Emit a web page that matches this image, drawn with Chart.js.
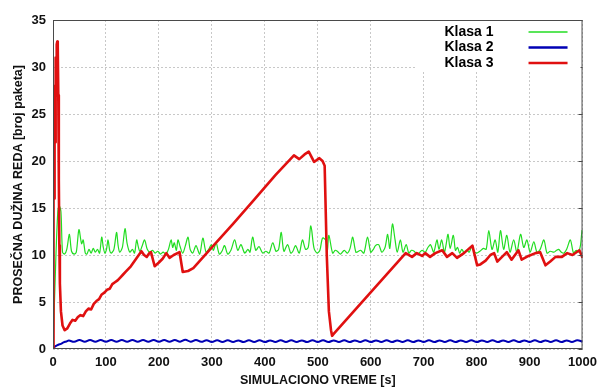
<!DOCTYPE html>
<html>
<head>
<meta charset="utf-8">
<script src="https://cdn.jsdelivr.net/npm/chart.js@4"></script>
<style>
  html, body { margin: 0; padding: 0; background: #fff; }
  #wrap { width: 603px; height: 391px; }
</style>
</head>
<body>
<div id="wrap"><canvas id="queueChart" width="603" height="391"></canvas></div>
<script>
const seriesNames = ["Klasa 1", "Klasa 2", "Klasa 3"];
const xTicks = [0, 100, 200, 300, 400, 500, 600, 700, 800, 900, 1000];
const yTicks = [0, 5, 10, 15, 20, 25, 30, 35];

// Klasa 1 (green)
const greenTime = [
    0, 5, 9, 12, 15, 18, 22, 26, 31, 35,
    40, 44, 49, 54, 57, 61, 64, 68, 72, 76,
    80, 84, 88, 92, 95, 98, 101, 104, 107, 110,
    115, 120, 123, 126, 131, 136, 140, 145, 150, 154,
    158, 161, 164, 168, 173, 178, 183, 188, 193, 198,
    203, 208, 213, 218, 223, 226, 229, 233, 236, 240,
    245, 250, 255, 259, 264, 270, 277, 283, 289, 294,
    299, 303, 308, 314, 319, 324, 330, 336, 343, 349,
    355, 362, 368, 372, 377, 383, 389, 396, 402, 408,
    415, 421, 426, 431, 436, 443, 449, 453, 458, 465,
    471, 477, 482, 487, 493, 499, 504, 509, 515, 518,
    521, 528, 533, 537, 543, 550, 556, 561, 566, 572,
    577, 581, 587, 594, 600, 605, 609, 615, 621, 627,
    632, 636, 641, 646, 650, 656, 661, 667, 672, 677,
    682, 687, 691, 697, 703, 708, 713, 719, 725, 729,
    734, 739, 742, 746, 750, 756, 760, 764, 768, 772,
    777, 782, 786, 791, 795, 800, 806, 813, 818, 823,
    829, 835, 840, 845, 851, 857, 863, 870, 876, 883,
    889, 895, 901, 908, 914, 920, 927, 933, 939, 946,
    951, 955, 960, 965, 970, 977, 983, 988, 992, 996,
    999, 1000
];
const greenValue = [
    0, 9, 14.5, 15.2, 14.6, 10.3, 10.1, 10.6, 12.2, 10.4,
    10.1, 10.3, 12.7, 11.2, 11.6, 10.2, 10.1, 10.6, 10.2, 10.7,
    10.3, 10.6, 10.2, 11.9, 10.8, 10.2, 10.6, 11.6, 10.5, 10.2,
    10.6, 12.4, 11.0, 10.3, 10.8, 12.8, 11.2, 10.3, 10.6, 10.2,
    11.6, 10.9, 10.4, 10.9, 11.6, 10.6, 10.3, 10.5, 10.2, 10.4,
    10.1, 10.3, 10.1, 10.6, 11.6, 10.8, 11.3, 10.5, 11.6, 10.9,
    10.2, 11.0, 11.9, 10.6, 10.2, 11.0, 10.1, 11.8, 10.3, 10.6,
    11.1, 10.5, 11.3, 10.1, 10.4, 11.0, 10.1, 10.5, 11.6, 10.5,
    11.1, 10.2, 10.6, 10.3, 11.9, 10.5, 10.9, 10.2, 10.4, 10.2,
    11.3, 10.4, 10.6, 12.4, 10.4, 11.1, 10.2, 10.4, 11.0, 10.2,
    11.6, 10.6, 10.8, 13.1, 10.7, 10.2, 10.5, 11.8, 11.6, 10.4,
    12.1, 10.2, 10.5, 10.4, 10.1, 10.5, 10.2, 10.7, 11.9, 10.3,
    10.4, 10.5, 10.2, 11.9, 10.3, 10.6, 11.0, 11.1, 10.3, 10.8,
    12.2, 10.7, 13.3, 11.6, 10.3, 11.6, 10.3, 11.1, 10.2, 10.5,
    10.4, 10.1, 10.2, 10.5, 10.3, 10.8, 11.1, 10.3, 11.6, 10.6,
    11.6, 10.3, 11.0, 12.2, 10.7, 12.1, 10.5, 10.8, 10.2, 10.6,
    10.2, 10.5, 10.3, 10.9, 10.4, 10.2, 10.4, 10.7, 10.6, 12.6,
    10.6, 11.6, 10.3, 12.6, 10.6, 12.1, 10.3, 11.6, 10.3, 12.2,
    10.8, 11.6, 10.3, 11.4, 10.3, 10.6, 11.6, 10.2, 10.4, 10.3,
    10.5, 10.6, 10.3, 10.2, 10.6, 11.6, 10.2, 10.5, 10.3, 11.0,
    12.6, 12.4
];

// Klasa 2 (blue)
const blueTime = [
    0, 5, 10, 15, 20, 25, 30, 40, 50, 60,
    70, 80, 90, 100, 110, 120, 130, 140, 150, 160,
    170, 180, 190, 200, 210, 220, 230, 240, 250, 260,
    270, 280, 290, 300, 310, 320, 330, 340, 350, 360,
    370, 380, 390, 400, 410, 420, 430, 440, 450, 460,
    470, 480, 490, 500, 510, 520, 530, 540, 550, 560,
    570, 580, 590, 600, 610, 620, 630, 640, 650, 660,
    670, 680, 690, 700, 710, 720, 730, 740, 750, 760,
    770, 780, 790, 800, 810, 820, 830, 840, 850, 860,
    870, 880, 890, 900, 910, 920, 930, 940, 950, 960,
    970, 980, 990, 1000
];
const blueValue = [
    0.1, 0.3, 0.45, 0.55, 0.7, 0.8, 0.9, 0.76, 0.96, 0.78,
    0.97, 0.77, 0.95, 0.76, 0.96, 0.78, 0.95, 0.77, 0.96, 0.76,
    0.95, 0.78, 0.97, 0.77, 0.95, 0.76, 0.96, 0.78, 0.98, 0.77,
    0.95, 0.76, 0.94, 0.75, 0.92, 0.74, 0.92, 0.75, 0.91, 0.74,
    0.92, 0.75, 0.93, 0.74, 0.91, 0.75, 0.92, 0.74, 0.92, 0.75,
    0.91, 0.74, 0.92, 0.75, 0.93, 0.74, 0.91, 0.75, 0.92, 0.74,
    0.91, 0.75, 0.92, 0.74, 0.91, 0.75, 0.92, 0.74, 0.91, 0.75,
    0.92, 0.74, 0.91, 0.75, 0.92, 0.74, 0.91, 0.75, 0.92, 0.74,
    0.91, 0.75, 0.92, 0.74, 0.91, 0.75, 0.92, 0.74, 0.91, 0.75,
    0.92, 0.74, 0.91, 0.75, 0.92, 0.74, 0.91, 0.75, 0.92, 0.74,
    0.91, 0.75, 0.92, 0.78
];

// Klasa 3 (red)
const redTime = [
    0, 1, 2, 3, 4, 5, 6, 7, 8, 9,
    10, 11, 12, 13, 15, 18, 22, 27, 32, 37,
    42, 47, 52, 57, 62, 67, 72, 77, 82, 87,
    92, 97, 102, 107, 112, 117, 122, 127, 132, 137,
    142, 147, 152, 157, 162, 167, 172, 177, 182, 185,
    192, 200, 207, 214, 220, 228, 239, 245, 255, 265,
    300, 340, 380, 420, 455, 465, 475, 483, 493, 503,
    509, 513, 517, 521, 525, 527, 530, 666, 678, 687,
    697, 703, 712, 722, 735, 744, 754, 763, 776, 792,
    801, 807, 817, 826, 833, 839, 848, 857, 866, 879,
    885, 898, 911, 920, 930, 939, 949, 961, 971, 981,
    994, 1000
];
const redValue = [
    0, 23, 16, 28, 22, 31, 27, 32.4, 32.7, 32.2,
    27, 18, 11, 7, 4, 2.5, 2.0, 2.2, 2.7, 3.1,
    3.0, 3.4, 3.6, 3.5, 4.0, 4.3, 4.2, 4.8, 5.1, 5.3,
    5.8, 6.0, 6.3, 6.4, 6.9, 7.1, 7.3, 7.6, 7.9, 8.2,
    8.5, 8.8, 9.2, 9.6, 10.0, 10.4, 10.0, 9.8, 10.2, 10.3,
    8.8, 9.2, 9.6, 10.2, 9.7, 10.0, 10.3, 8.2, 8.3, 8.6,
    10.8, 13.3, 15.9, 18.5, 20.6, 20.2, 20.7, 21.0, 19.9, 20.3,
    20.0, 19.5, 10, 4, 2, 1.4, 1.6, 10.2, 9.8, 10.2,
    9.9, 10.2, 9.8, 10.2, 10.5, 9.8, 10.2, 9.7, 10.2, 11.0,
    8.9, 9.0, 9.4, 10.0, 10.2, 9.3, 9.8, 10.3, 9.5, 10.5,
    9.5, 9.9, 10.2, 10.3, 8.9, 9.3, 9.8, 9.8, 10.2, 10.0,
    10.5, 9.7
];

const COLORS = ["#22dd22", "#0000b4", "#e01010"];
const WIDTHS = [1.2, 2, 2.6];

function toPoints(times, values) {
    return times.map((t, i) => ({ x: t, y: values[i] }));
}

// frame round the plot + small inner ticks on the right edge
const framePlugin = {
    id: "frame",
    afterDatasetsDraw(chart) {
        const { ctx, chartArea: a, scales } = chart;
        ctx.save();
        ctx.strokeStyle = "#4a4a4a";
        ctx.lineWidth = 1;
        ctx.strokeRect(a.left + 0.5, a.top + 0.5, a.right - a.left - 1, a.bottom - a.top - 1);
        ctx.beginPath();
        yTicks.forEach(v => {
            const y = Math.round(scales.y.getPixelForValue(v)) + 0.5;
            ctx.moveTo(a.right, y);
            ctx.lineTo(a.right - 4, y);
        });
        ctx.stroke();
        ctx.restore();
    }
};

// legend box: text first, then line sample, top right inside the plot
const legendPlugin = {
    id: "lineLegend",
    afterDatasetsDraw(chart) {
        const { ctx, chartArea: a } = chart;
        ctx.save();
        ctx.fillStyle = "#fff";
        ctx.fillRect(a.right - 167, a.top + 1, 165, 49);
        ctx.font = "bold 14px Arial, 'Liberation Sans', sans-serif";
        ctx.textAlign = "right";
        ctx.textBaseline = "middle";
        seriesNames.forEach((name, i) => {
            const y = a.top + 12 + i * 15.5;
            ctx.fillStyle = "#000";
            ctx.fillText(name, a.right - 89, y);
            ctx.strokeStyle = COLORS[i];
            ctx.lineWidth = i === 0 ? 1.5 : 2.4;
            ctx.beginPath();
            ctx.moveTo(a.right - 54, y);
            ctx.lineTo(a.right - 15, y);
            ctx.stroke();
        });
        ctx.restore();
    }
};

const tickFont = { family: "Arial, 'Liberation Sans', sans-serif", size: 13, weight: "bold" };
const titleFont = { family: "Arial, 'Liberation Sans', sans-serif", size: 12.5, weight: "bold" };

new Chart(document.getElementById("queueChart"), {
    type: "line",
    data: {
        datasets: [
            { label: seriesNames[2], data: toPoints(redTime, redValue), borderColor: COLORS[2], borderWidth: WIDTHS[2], order: 0 },
            { label: seriesNames[0], data: toPoints(greenTime, greenValue), borderColor: COLORS[0], borderWidth: WIDTHS[0], tension: 0.3, order: 1 },
            { label: seriesNames[1], data: toPoints(blueTime, blueValue), borderColor: COLORS[1], borderWidth: WIDTHS[1], tension: 0.4, order: 2 }
        ]
    },
    options: {
        responsive: false,
        animation: false,
        layout: { padding: { top: 20, right: 19, left: 0, bottom: 0 } },
        elements: { point: { radius: 0 }, line: { tension: 0, borderJoinStyle: "round" } },
        plugins: { legend: { display: false }, tooltip: { enabled: false } },
        scales: {
            x: {
                type: "linear",
                min: 0,
                max: 1000,
                afterBuildTicks: scale => { scale.ticks = xTicks.map(v => ({ value: v })); },
                afterFit: scale => { scale.height = 42; },
                ticks: { font: tickFont, color: "#111", padding: 6, maxRotation: 0, callback: v => String(v) },
                grid: { color: "#c8c8c8", lineWidth: 1, drawTicks: false },
                border: { display: false, dash: [2, 2] },
                title: { display: true, text: "SIMULACIONO VREME [s]", font: titleFont, color: "#111", padding: { top: 3, bottom: 3 } }
            },
            y: {
                min: 0,
                max: 35,
                afterBuildTicks: scale => { scale.ticks = yTicks.map(v => ({ value: v })); },
                afterFit: scale => { scale.width = 53; },
                ticks: { font: tickFont, color: "#111", padding: 7, callback: v => String(v) },
                grid: { color: "#c8c8c8", lineWidth: 1, drawTicks: false },
                border: { display: false, dash: [2, 2] },
                title: { display: true, text: "PROSEČNA DUŽINA REDA [broj paketa]", font: titleFont, color: "#111", padding: { top: 11, bottom: 11 } }
            }
        }
    },
    plugins: [framePlugin, legendPlugin]
});
</script>
</body>
</html>
